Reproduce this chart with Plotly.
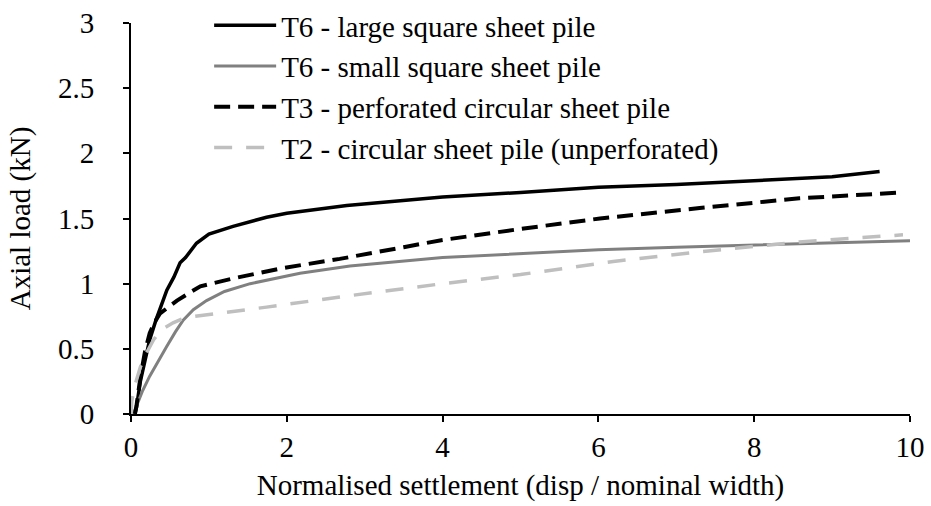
import plotly.graph_objects as go

# T6 - large square sheet pile
large_x = [0.05, 0.07, 0.12, 0.18, 0.24, 0.32, 0.40, 0.46, 0.55, 0.63, 0.70, 0.84, 1.0, 1.31, 1.74, 2.0, 2.77, 3.5, 4.0, 5.0, 6.0, 7.0, 8.0, 8.37, 9.0, 9.61]
large_y = [0.0, 0.05, 0.25, 0.42, 0.57, 0.72, 0.85, 0.95, 1.05, 1.16, 1.20, 1.31, 1.38, 1.44, 1.51, 1.54, 1.60, 1.64, 1.665, 1.70, 1.74, 1.76, 1.79, 1.80, 1.82, 1.86]

# T6 - small square sheet pile
small_x = [0.03, 0.08, 0.15, 0.24, 0.35, 0.46, 0.57, 0.67, 0.80, 0.97, 1.2, 1.53, 2.17, 2.81, 4.0, 5.0, 6.0, 7.0, 8.16, 9.0, 10.0]
small_y = [0.0, 0.08, 0.18, 0.29, 0.41, 0.52, 0.63, 0.72, 0.80, 0.87, 0.94, 1.0, 1.08, 1.135, 1.20, 1.23, 1.26, 1.28, 1.30, 1.31, 1.33]

# T3 - perforated circular sheet pile
perf_x = [0.05, 0.07, 0.12, 0.18, 0.24, 0.30, 0.37, 0.47, 0.59, 0.75, 0.89, 1.1, 1.31, 1.95, 2.68, 3.5, 4.0, 5.0, 6.02, 7.3, 8.58, 9.9]
perf_y = [0.0, 0.06, 0.28, 0.48, 0.62, 0.70, 0.77, 0.82, 0.87, 0.93, 0.98, 1.01, 1.04, 1.12, 1.19, 1.28, 1.335, 1.42, 1.50, 1.58, 1.655, 1.70]

# T2 - circular sheet pile (unperforated)
circ_x = [0.0, 0.01, 0.05, 0.12, 0.2, 0.29, 0.4, 0.54, 0.7, 0.97, 1.74, 2.77, 4.0, 5.0, 6.19, 7.3, 8.58, 9.91]
circ_y = [0.0, 0.1, 0.22, 0.36, 0.47, 0.57, 0.65, 0.70, 0.74, 0.76, 0.82, 0.905, 1.0, 1.07, 1.17, 1.245, 1.32, 1.375]

x_ticks = [0, 2, 4, 6, 8, 10]
y_ticks = [0, 0.5, 1, 1.5, 2, 2.5, 3]

FONT = "Liberation Serif"
FS = 29

series = [
    ("T6 - large square sheet pile", large_x, large_y, dict(color="black", width=3.5)),
    ("T6 - small square sheet pile", small_x, small_y, dict(color="#808080", width=3)),
    ("T3 - perforated circular sheet pile", perf_x, perf_y, dict(color="black", width=4, dash="16px,8px")),
    ("T2 - circular sheet pile (unperforated)", circ_x, circ_y, dict(color="#BFBFBF", width=3.5, dash="18px,14px")),
]

traces = []
for i, (name, xs, ys, line) in enumerate(series):
    traces.append(go.Scatter(x=xs, y=ys, mode="lines", name=name, line=line, legendgroup=str(i)))

fig = go.Figure(data=traces)

axis_style = dict(
    showgrid=False, zeroline=False, showline=True, linecolor="black", linewidth=2,
    ticks="outside", ticklen=6, tickwidth=2, tickcolor="black", automargin=False,
    tickfont=dict(family=FONT, size=FS, color="black"),
)

# top margin 0 and a shortened y domain so the legend can sit above the plot area
fig.update_layout(
    width=931, height=506,
    margin=dict(l=131, r=21, t=0, b=92),
    font=dict(family=FONT, size=FS, color="black"),
    plot_bgcolor="white", paper_bgcolor="white",
    xaxis=dict(range=[0, 10], tickvals=x_ticks, ticklabelstandoff=0,
               title=dict(text="Normalised settlement (disp / nominal width)", standoff=13,
                          font=dict(family=FONT, size=FS, color="black")), **axis_style),
    yaxis=dict(range=[0, 3], tickvals=y_ticks, ticklabelstandoff=23, domain=[0, 391 / 414],
               title=dict(text="Axial load (kN)", standoff=19,
                          font=dict(family=FONT, size=FS, color="black")), **axis_style),
    legend=dict(x=0.1003, y=1.0, xanchor="left", yanchor="top",
                bgcolor="rgba(0,0,0,0)", itemwidth=62, tracegroupgap=0,
                font=dict(family=FONT, size=FS, color="black")),
    showlegend=True,
)

# drop the default 8px page margin so the figure fills the window
fig.write_html("out.html", config={"displayModeBar": False},
               post_script="document.body.style.margin = '0';")
